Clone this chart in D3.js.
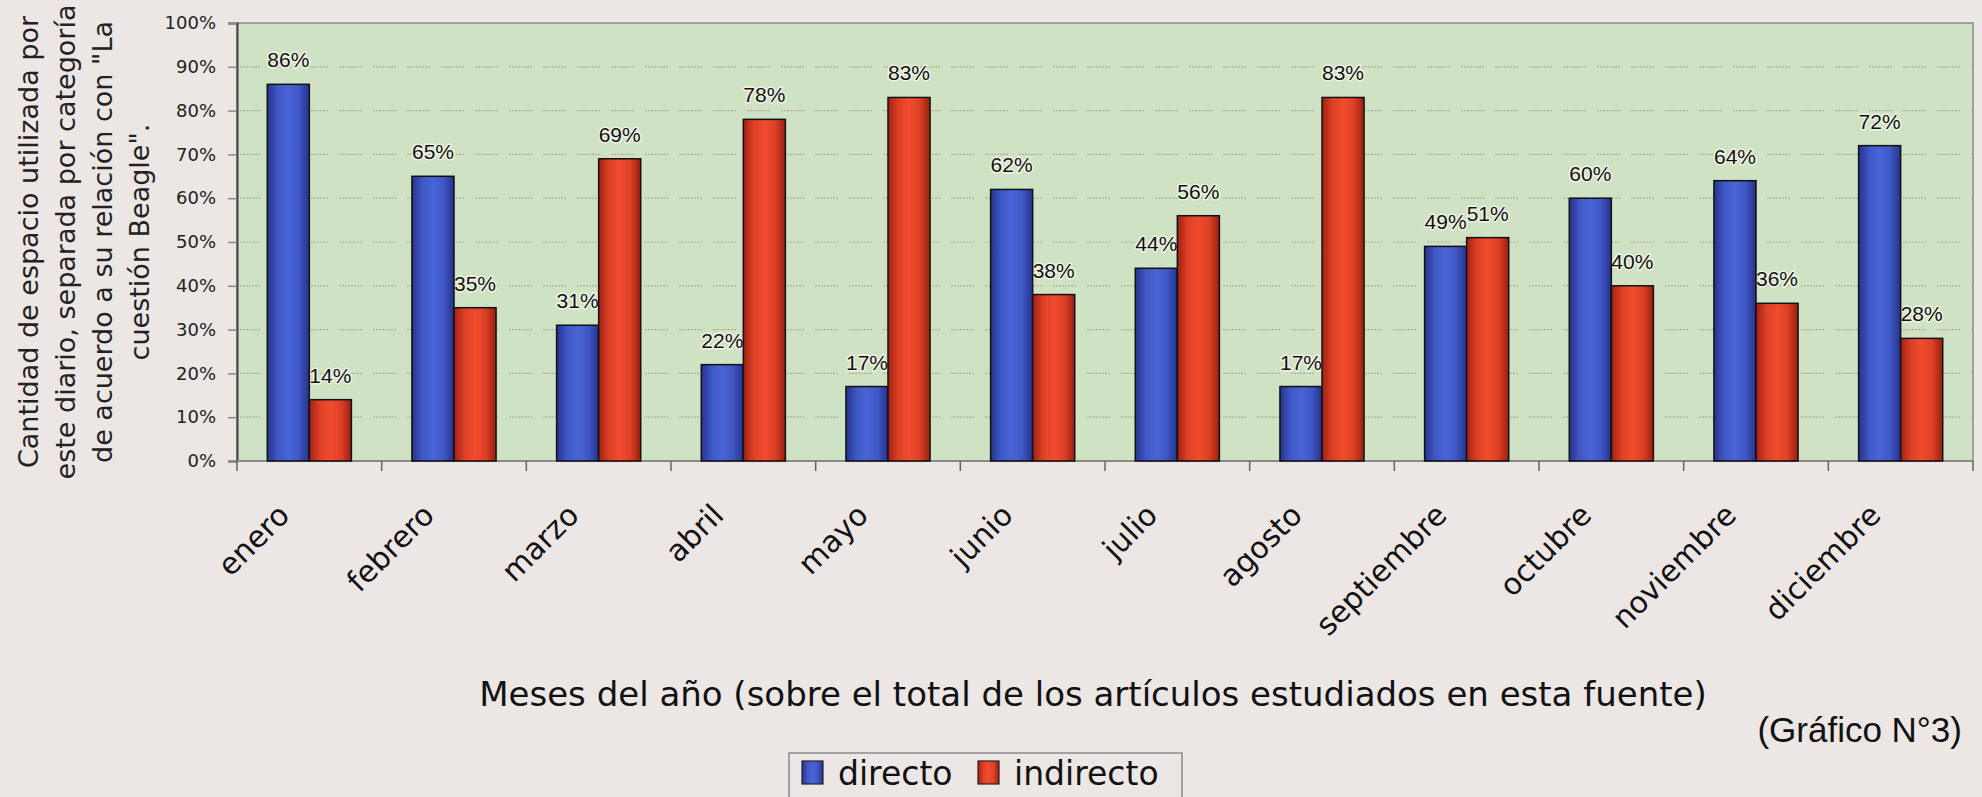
<!doctype html>
<html>
  <head>
    <meta charset="utf-8">
    <script src="https://cdnjs.cloudflare.com/ajax/libs/d3/7.8.5/d3.min.js"></script>
    <style>
      html, body { margin: 0; padding: 0; background: #ece6e5; }
      svg { display: block; }
      .grid line { stroke: #aea48e; stroke-dasharray: 2,1,2,1,2,1,2,1,2,1,2,1,2,1,2,11; stroke-width: 1.2; opacity: 0.8; }
      .bar { stroke: #111; stroke-width: 1.5; }
      .vlabel { font-family: "Liberation Sans", Arial, sans-serif; font-size: 21px; fill: #111;
                paint-order: stroke; stroke: #eef3e4; stroke-width: 3px; stroke-linejoin: round; }
      .ytick text { font-family: "DejaVu Sans", Verdana, sans-serif; font-size: 18px; fill: #222; }
      .xlab { font-family: "DejaVu Sans", Verdana, sans-serif; font-size: 30px; fill: #111; }
      .ytitle { font-family: "DejaVu Sans", Verdana, sans-serif; font-size: 27px; fill: #222; }
      .xtitle { font-family: "DejaVu Sans", Verdana, sans-serif; font-size: 34px; fill: #111; }
      .note { font-family: "Liberation Sans", Arial, sans-serif; font-size: 35px; fill: #111; }
      .legend text { font-family: "DejaVu Sans", Verdana, sans-serif; font-size: 33px; fill: #111; }
    </style>
  </head>
  <body>
    <svg width="1982" height="797"></svg>
    <script>
      // data (Gráfico N°3)
      var months = ["enero", "febrero", "marzo", "abril", "mayo", "junio",
                    "julio", "agosto", "septiembre", "octubre", "noviembre", "diciembre"];
      var series = ["directo", "indirecto"];
      var directo   = [0.86, 0.65, 0.31, 0.22, 0.17, 0.62, 0.44, 0.17, 0.49, 0.60, 0.64, 0.72];
      var indirecto = [0.14, 0.35, 0.69, 0.78, 0.83, 0.38, 0.56, 0.83, 0.51, 0.40, 0.36, 0.28];
      var yTicks = [0, 0.1, 0.2, 0.3, 0.4, 0.5, 0.6, 0.7, 0.8, 0.9, 1];

      var values = { directo: directo, indirecto: indirecto };
      var rows = [];
      months.forEach((m, i) => {
        series.forEach(s => rows.push({ month: m, series: s, value: values[s][i] }));
      });

      var svg = d3.select("svg");
      var plotL = 237, plotR = 1973, plotT = 23, plotB = 461;

      var x0 = d3.scaleBand().domain(months).range([plotL, plotR]).padding(0);
      var x1 = d3.scaleBand().domain(series).range([0, x0.bandwidth()])
        .paddingInner(0).paddingOuter(0.72);
      var y = d3.scaleLinear().domain([0, 1]).range([plotB, plotT]);

      var defs = svg.append("defs");
      var grads = {
        directo: ["#26348a", "#3f58c6", "#4a64d6", "#3f58c6", "#24318a"],
        indirecto: ["#9e2211", "#de4026", "#f04c2e", "#de4026", "#98200f"]
      };
      series.forEach(s => {
        var g = defs.append("linearGradient").attr("id", "g-" + s)
          .attr("x1", "0%").attr("x2", "100%").attr("y1", "0%").attr("y2", "0%");
        grads[s].forEach((c, i, a) => {
          g.append("stop").attr("offset", (i / (a.length - 1) * 100) + "%").attr("stop-color", c);
        });
      });

      // plot area
      svg.append("rect")
        .attr("x", plotL).attr("y", plotT)
        .attr("width", plotR - plotL).attr("height", plotB - plotT)
        .attr("fill", "#cfe2c3")
        .attr("stroke", "#8c8c86").attr("stroke-width", 1.5);

      svg.append("g").attr("class", "grid")
        .selectAll("line")
        .data(yTicks.filter(t => t > 0 && t < 1))
        .enter().append("line")
          .attr("x1", plotL).attr("x2", plotR)
          .attr("y1", d => y(d)).attr("y2", d => y(d));

      // y axis
      var yAxis = svg.append("g").attr("class", "ytick")
        .attr("transform", `translate(${plotL},0)`)
        .call(d3.axisLeft(y).tickValues(yTicks).tickFormat(d3.format(".0%"))
          .tickSize(9).tickPadding(12));
      yAxis.select(".domain").attr("stroke", "#444").attr("stroke-width", 2);
      yAxis.selectAll(".tick line").attr("stroke", "#888").attr("stroke-width", 1.5);

      // x axis line + ticks at category boundaries
      svg.append("line")
        .attr("x1", plotL).attr("x2", plotR).attr("y1", plotB).attr("y2", plotB)
        .attr("stroke", "#8a8a86").attr("stroke-width", 2);
      var bounds = months.map(m => x0(m)).concat([plotR]);
      svg.append("g").selectAll("line")
        .data(bounds)
        .enter().append("line")
          .attr("x1", d => d).attr("x2", d => d)
          .attr("y1", plotB).attr("y2", plotB + 10)
          .attr("stroke", "#666").attr("stroke-width", 1.5);

      // value labels (drawn under the bars, as in the original)
      svg.append("g").selectAll("text")
        .data(rows)
        .enter().append("text")
          .attr("class", "vlabel")
          .attr("text-anchor", "middle")
          .attr("x", d => x0(d.month) + x1(d.series) + x1.bandwidth() / 2)
          .attr("y", d => y(d.value) - 17)
          .text(d => Math.round(d.value * 100) + "%");

      // bars
      svg.append("g").selectAll("rect")
        .data(rows)
        .enter().append("rect")
          .attr("class", "bar")
          .attr("x", d => x0(d.month) + x1(d.series))
          .attr("y", d => y(d.value))
          .attr("width", x1.bandwidth())
          .attr("height", d => plotB - y(d.value))
          .attr("fill", d => `url(#g-${d.series})`);

      // month labels, rotated
      svg.append("g").selectAll("text")
        .data(months)
        .enter().append("text")
          .attr("class", "xlab")
          .attr("text-anchor", "end")
          .attr("transform", d => `translate(${x0(d) + x0.bandwidth() / 2 - 18},517) rotate(-45)`)
          .text(d => d);

      // y title
      var yTitle = ["Cantidad de espacio utilizada por",
                    "este diario, separada por categoría",
                    "de acuerdo a su relación con \"La",
                    "cuestión Beagle\"."];
      svg.append("text")
        .attr("class", "ytitle")
        .attr("text-anchor", "middle")
        .attr("transform", "translate(38,242) rotate(-90)")
        .selectAll("tspan")
        .data(yTitle)
        .enter().append("tspan")
          .attr("x", 0)
          .attr("y", (d, i) => i * 37)
          .text(d => d);

      svg.append("text")
        .attr("class", "xtitle")
        .attr("text-anchor", "middle")
        .attr("x", 1093)
        .attr("y", 706)
        .text("Meses del año (sobre el total de los artículos estudiados en esta fuente)");

      svg.append("text")
        .attr("class", "note")
        .attr("text-anchor", "end")
        .attr("x", 1962)
        .attr("y", 742)
        .text("(Gráfico N°3)");

      // legend
      var legend = svg.append("g").attr("class", "legend");
      legend.append("rect")
        .attr("x", 789).attr("y", 753).attr("width", 393).attr("height", 70)
        .attr("fill", "none").attr("stroke", "#8a8a8a").attr("stroke-width", 1.5);
      var legX = d3.scaleOrdinal().domain(series).range([802, 978]);
      var item = legend.selectAll("g.item")
        .data(series)
        .enter().append("g").attr("class", "item")
          .attr("transform", d => `translate(${legX(d)},0)`);
      item.append("rect")
        .attr("y", 761).attr("width", 21).attr("height", 23)
        .attr("fill", d => `url(#g-${d})`)
        .attr("stroke", "#222").attr("stroke-width", 1.2);
      item.append("text")
        .attr("x", 36)
        .attr("y", 785)
        .text(d => d);
    </script>
  </body>
</html>
